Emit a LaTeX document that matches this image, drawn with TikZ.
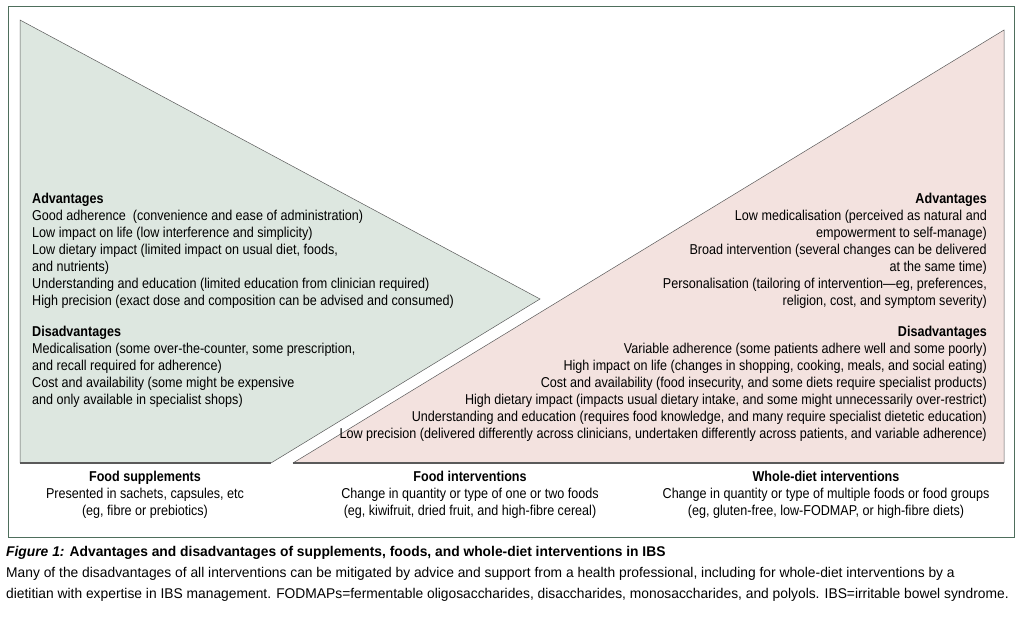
\documentclass[tikz,border=0pt]{standalone}
\usepackage{fontspec}
\setmainfont{Liberation Sans}[FakeStretch=0.88]
\newfontfamily\capfont{Liberation Sans}[FakeStretch=0.98]
\usetikzlibrary{positioning}
\definecolor{suppgreen}{HTML}{DDE7E0}
\definecolor{dietpink}{HTML}{F3E2DF}
\definecolor{edgegrey}{HTML}{5A5A5A}
\definecolor{framegreen}{HTML}{4E6E5C}

\begin{document}
\begin{tikzpicture}[x=1pt,y=-1pt,
    txt/.style={inner sep=0pt,font=\fontsize{14.3}{17}\selectfont},
    block/.style={txt,align=left,anchor=north west},
    rblock/.style={txt,align=right,anchor=north east},
    label/.style={txt,align=center,anchor=north}]
    % Frame and bounding box
    \useasboundingbox (0,0) rectangle (1022,616);
    \draw[framegreen,line width=0.8pt] (8,6) rectangle (1014,537);

    % Shapes
    \fill[suppgreen] (20,20) -- (540,299) -- (271,463) -- (20,463) -- cycle;
    \draw[edgegrey,line width=0.5pt] (20,463) -- (20,20) -- (540,299) -- (271,463);
    \draw[edgegrey,line width=1.2pt] (20,463) -- (271,463);
    \fill[dietpink] (293,463) -- (1004,30) -- (1004,463) -- cycle;
    \draw[edgegrey,line width=0.5pt] (293,463) -- (1004,30) -- (1004,463);
    \draw[edgegrey,line width=1.2pt] (293,463) -- (1004,463);

    % Supplement text
    \node[block] (advL) at (32,193) {\textbf{Advantages}\\
      Good adherence\ \ (convenience and ease of administration)\\
      Low impact on life (low interference and simplicity)\\
      Low dietary impact (limited impact on usual diet, foods,\\
      and nutrients)\\
      Understanding and education (limited education from clinician required)\\
      High precision (exact dose and composition can be advised and consumed)};
    \node[block] (disL) at (32,326) {\textbf{Disadvantages}\\
      Medicalisation (some over-the-counter, some prescription,\\
      and recall required for adherence)\\
      Cost and availability (some might be expensive\\
      and only available in specialist shops)};

    % Whole-diet text
    \node[rblock] (advR) at (987,193) {\textbf{Advantages}\\
      Low medicalisation (perceived as natural and\\
      empowerment to self-manage)\\
      Broad intervention (several changes can be delivered\\
      at the same time)\\
      Personalisation (tailoring of intervention---eg, preferences,\\
      religion, cost, and symptom severity)};
    \node[rblock] (disR) at (987,326) {\textbf{Disadvantages}\\
      Variable adherence (some patients adhere well and some poorly)\\
      High impact on life (changes in shopping, cooking, meals, and social eating)\\
      Cost and availability (food insecurity, and some diets require specialist products)\\
      High dietary impact (impacts usual dietary intake, and some might unnecessarily over-restrict)\\
      Understanding and education (requires food knowledge, and many require specialist dietetic education)\\
      Low precision (delivered differently across clinicians, undertaken differently across patients, and variable adherence)};

    % Labels under the shapes
    \node[label] (supp) at (145,471) {\textbf{Food supplements}\\
      Presented in sachets, capsules, etc\\(eg, fibre or prebiotics)};
    \node[label] (food) at (470,471) {\textbf{Food interventions}\\
      Change in quantity or type of one or two foods\\(eg, kiwifruit, dried fruit, and high-fibre cereal)};
    \node[label] (whole) at (826,471) {\textbf{Whole-diet interventions}\\
      Change in quantity or type of multiple foods or food groups\\(eg, gluten-free, low-FODMAP, or high-fibre diets)};

    % Caption
    \node[block,anchor=north west,font=\capfont\fontsize{14.1}{21}\selectfont] (cap) at (6,546)
      {\textbf{\textit{Figure 1:} Advantages and disadvantages of supplements, foods, and whole-diet interventions in IBS}\\
      Many of the disadvantages of all interventions can be mitigated by advice and support from a health professional, including for whole-diet interventions by a\\
      dietitian with expertise in IBS management. FODMAPs=fermentable oligosaccharides, disaccharides, monosaccharides, and polyols. IBS=irritable bowel syndrome.};
\end{tikzpicture}
\end{document}
